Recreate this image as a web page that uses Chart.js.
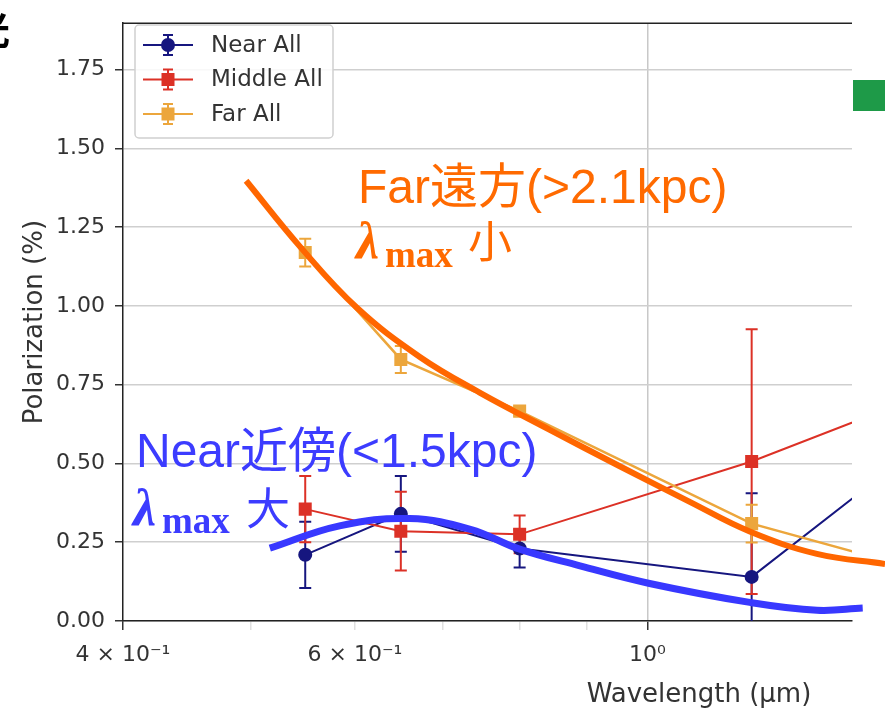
<!DOCTYPE html>
<html>
<head>
<meta charset="utf-8">
<title>Polarization vs Wavelength</title>
<script src="https://cdn.jsdelivr.net/npm/chart.js@4.4.1/dist/chart.umd.min.js"></script>
<style>
  html, body { margin: 0; padding: 0; background: #fff; }
  #wrap { position: relative; width: 885px; height: 710px; }
</style>
</head>
<body>
<div id="wrap"><canvas id="polChart"></canvas></div>
<script>
// values: wavelength (µm) vs polarization (%)
const wavelengths = [0.55, 0.65, 0.80, 1.20, 1.65];
const nearAll   = [0.21, 0.34, 0.23, 0.14, 0.59];
const nearErr   = [0.105, 0.12, 0.06, 0.265, null];
const middleAll = [0.355, 0.285, 0.275, 0.506, 0.73];
const middleErr = [0.105, 0.125, 0.06, 0.42, null];
const farAll    = [1.169, 0.83, 0.666, 0.309, 0.15];
const farErr    = [0.044, 0.043, 0.015, 0.06, null];

// hand drawn trend curves laid over the plot
const farCurveX  = [0.496, 0.545, 0.602, 0.672, 0.746, 0.844, 0.953, 1.077, 1.196, 1.345, 1.515];
const farCurveY  = [1.397, 1.188, 0.994, 0.838, 0.725, 0.606, 0.491, 0.378, 0.284, 0.213, 0.181];
const nearCurveX = [0.517, 0.584, 0.660, 0.734, 0.800, 0.889, 1.004, 1.196, 1.345, 1.457];
const nearCurveY = [0.231, 0.302, 0.325, 0.291, 0.228, 0.175, 0.119, 0.059, 0.034, 0.041];

const seriesNames  = ['Near All', 'Middle All', 'Far All'];
const seriesColors = ['#16167f', '#dc3126', '#eca63c'];
const seriesStyles = ['circle', 'rect', 'rect'];

const yTicks = [0, 0.25, 0.5, 0.75, 1.0, 1.25, 1.5, 1.75];
const xTicks = [0.4, 0.5, 0.6, 0.7, 0.8, 0.9, 1.0];
const xTickLabels = ['4 × 10⁻¹', '', '6 × 10⁻¹', '', '', '', '10⁰'];

const errSets = [nearErr, middleErr, farErr];
const tickFont = "'DejaVu Sans', sans-serif";

function pts(xs, ys) {
    return xs.map((x, i) => ({ x: x, y: ys[i] }));
}

const errorBars = {
    id: 'errorBars',
    beforeDatasetsDraw(chart) {
        const ctx = chart.ctx;
        const a = chart.chartArea;
        const xs = chart.scales.x, ys = chart.scales.y;
        ctx.save();
        ctx.beginPath();
        ctx.rect(a.left, a.top, a.right - a.left, a.bottom - a.top);
        ctx.clip();
        errSets.forEach((errs, d) => {
            const vals = [nearAll, middleAll, farAll][d];
            ctx.strokeStyle = seriesColors[d];
            ctx.lineWidth = 2;
            wavelengths.forEach((w, i) => {
                if (errs[i] == null) return;
                const px = xs.getPixelForValue(w);
                const top = ys.getPixelForValue(vals[i] + errs[i]);
                const bot = ys.getPixelForValue(vals[i] - errs[i]);
                ctx.beginPath();
                ctx.moveTo(px, top); ctx.lineTo(px, bot);
                ctx.moveTo(px - 6, top); ctx.lineTo(px + 6, top);
                ctx.moveTo(px - 6, bot); ctx.lineTo(px + 6, bot);
                ctx.stroke();
            });
        });
        ctx.restore();
    }
};

function marker(ctx, style, x, y, color) {
    ctx.fillStyle = color;
    if (style === 'circle') {
        ctx.beginPath();
        ctx.arc(x, y, 7, 0, Math.PI * 2);
        ctx.fill();
    } else {
        ctx.fillRect(x - 6.5, y - 6.5, 13, 13);
    }
}

function text(ctx, str, x, y, font, color) {
    ctx.font = font;
    ctx.fillStyle = color;
    ctx.fillText(str, x, y);
}

const overlay = {
    id: 'overlay',
    afterDraw(chart) {
        const ctx = chart.ctx;
        const a = chart.chartArea;
        ctx.save();

        // top spine
        ctx.strokeStyle = '#222';
        ctx.lineWidth = 1.5;
        ctx.beginPath();
        ctx.moveTo(a.left, a.top); ctx.lineTo(a.right, a.top);
        ctx.stroke();

        // legend
        ctx.fillStyle = 'rgba(255,255,255,0.85)';
        ctx.strokeStyle = '#d0d0d0';
        ctx.lineWidth = 1.5;
        ctx.beginPath();
        ctx.roundRect(135, 25, 198, 113, 4);
        ctx.fill();
        ctx.stroke();
        ctx.textBaseline = 'middle';
        seriesNames.forEach((name, i) => {
            const y = 45 + i * 34.5;
            ctx.strokeStyle = seriesColors[i];
            ctx.lineWidth = 2;
            ctx.beginPath();
            ctx.moveTo(143, y); ctx.lineTo(193, y);
            ctx.moveTo(168, y - 10); ctx.lineTo(168, y + 10);
            ctx.moveTo(163, y - 10); ctx.lineTo(173, y - 10);
            ctx.moveTo(163, y + 10); ctx.lineTo(173, y + 10);
            ctx.stroke();
            marker(ctx, seriesStyles[i], 168, y, seriesColors[i]);
            text(ctx, name, 211, y + 1, '23px ' + tickFont, '#333');
        });

        // axis titles
        ctx.textBaseline = 'alphabetic';
        ctx.textAlign = 'center';
        text(ctx, 'Wavelength (µm)', 699, 702, '26px ' + tickFont, '#333');
        ctx.save();
        ctx.translate(42, (a.top + a.bottom) / 2);
        ctx.rotate(-Math.PI / 2);
        text(ctx, 'Polarization (%)', 0, 0, '26px ' + tickFont, '#333');
        ctx.restore();
        ctx.textAlign = 'left';

        // annotations
        const sans = "'Liberation Sans', 'Noto Sans CJK JP', sans-serif";
        const cjk = "'Noto Sans CJK JP', sans-serif";
        const serif = "'Liberation Serif', serif";
        const orange = '#ff6a00', blue = '#3c3cff';
        text(ctx, 'Far遠方(>2.1kpc)', 358, 203, '48px ' + sans, orange);
        text(ctx, 'λ', 356, 258, 'italic bold 52px ' + serif, orange);
        text(ctx, 'max', 385, 267, 'bold 37px ' + serif, orange);
        text(ctx, '小', 468, 258, '44px ' + cjk, orange);
        text(ctx, 'Near近傍(<1.5kpc)', 136, 467, '48px ' + sans, blue);
        text(ctx, 'λ', 133, 525, 'italic bold 52px ' + serif, blue);
        text(ctx, 'max', 162, 533, 'bold 37px ' + serif, blue);
        text(ctx, '大', 246, 525, '44px ' + cjk, blue);

        // slide pieces around the figure
        ctx.fillStyle = '#1e9a48';
        ctx.fillRect(853, 80, 32, 31);
        text(ctx, '光', -28, 44, 'bold 38px ' + cjk, '#000');

        ctx.restore();
    }
};

new Chart(document.getElementById('polChart'), {
    type: 'line',
    data: {
        datasets: [
            {
                label: 'far curve',
                data: pts(farCurveX, farCurveY),
                borderColor: '#ff6600',
                borderWidth: 6,
                pointRadius: 0,
                tension: 0.4,
                clip: false,
                order: 0
            },
            {
                label: 'near curve',
                data: pts(nearCurveX, nearCurveY),
                borderColor: '#3838ff',
                borderWidth: 7,
                pointRadius: 0,
                tension: 0.4,
                clip: false,
                order: 0
            },
            {
                label: seriesNames[0],
                data: pts(wavelengths, nearAll),
                borderColor: seriesColors[0],
                backgroundColor: seriesColors[0],
                borderWidth: 2,
                pointStyle: 'circle',
                pointRadius: 7,
                pointBorderWidth: 0,
                order: 3
            },
            {
                label: seriesNames[1],
                data: pts(wavelengths, middleAll),
                borderColor: seriesColors[1],
                backgroundColor: seriesColors[1],
                borderWidth: 2,
                pointStyle: 'rect',
                pointRadius: 9.2,
                pointBorderWidth: 0,
                order: 2
            },
            {
                label: seriesNames[2],
                data: pts(wavelengths, farAll),
                borderColor: seriesColors[2],
                backgroundColor: seriesColors[2],
                borderWidth: 2.5,
                pointStyle: 'rect',
                pointRadius: 9.2,
                pointBorderWidth: 0,
                order: 1
            }
        ]
    },
    options: {
        responsive: true,
        maintainAspectRatio: false,
        animation: false,
        layout: { padding: { top: 14, right: 33, left: 0, bottom: 0 } },
        plugins: {
            legend: { display: false },
            tooltip: { enabled: false }
        },
        scales: {
            x: {
                type: 'logarithmic',
                min: 0.4,
                max: 1.43,
                afterBuildTicks(scale) {
                    scale.ticks = xTicks.map(v => ({ value: v, major: v === 0.4 || v === 1 }));
                },
                afterFit(scale) { scale.height = 89; },
                ticks: {
                    autoSkip: false,
                    maxRotation: 0,
                    padding: 12,
                    color: '#333',
                    font: { family: tickFont, size: 22 },
                    callback: (v, i) => xTickLabels[i]
                },
                grid: {
                    color: c => (c.tick && c.tick.value === 1) ? '#c8c8c8' : 'rgba(0,0,0,0)',
                    lineWidth: 1.5,
                    tickLength: 9,
                    tickColor: c => (c.tick && (c.tick.value === 1 || c.tick.value === 0.4)) ? '#333' : '#e0e0e0'
                },
                border: { color: '#222', width: 1.5 }
            },
            y: {
                min: 0,
                max: 1.897,
                afterBuildTicks(scale) {
                    scale.ticks = yTicks.map(v => ({ value: v }));
                },
                afterFit(scale) { scale.width = 123; },
                ticks: {
                    padding: 10,
                    color: '#333',
                    font: { family: tickFont, size: 22 },
                    callback: v => v.toFixed(2)
                },
                grid: {
                    color: '#cfcfcf',
                    lineWidth: 1.5,
                    tickLength: 8,
                    tickColor: '#333'
                },
                border: { color: '#222', width: 1.5 }
            }
        }
    },
    plugins: [errorBars, overlay]
});
</script>
</body>
</html>
